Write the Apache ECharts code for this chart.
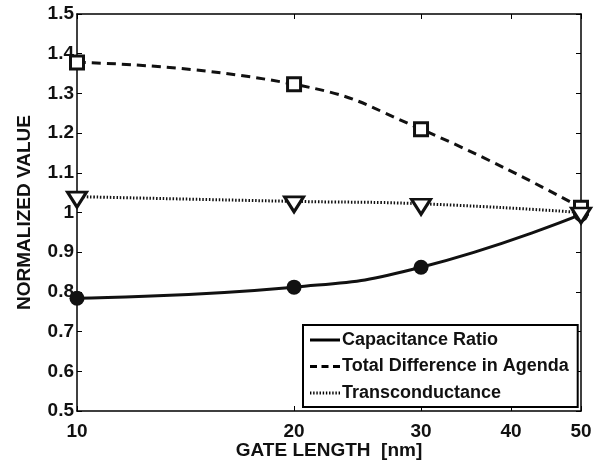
<!DOCTYPE html>
<html>
<head>
<meta charset="utf-8">
<script src="https://cdn.jsdelivr.net/npm/echarts@6/dist/echarts.min.js"></script>
<style>
  html, body { margin: 0; padding: 0; background: #fff; }
  #chart { width: 609px; height: 463px; }
</style>
</head>
<body>
<div id="chart"></div>
<script>
  // valores
  const gateLength = [10, 20, 30, 50];
  const capacitanceRatio = [0.784, 0.812, 0.862, 0.995];
  const totalDifference = [1.378, 1.323, 1.210, 1.012];
  const transconductance = [1.040, 1.028, 1.022, 1.000];
  const xTicks = [10, 20, 30, 40, 50];
  const seriesNames = ['Capacitance Ratio', 'Total Difference in Agenda', 'Transconductance'];

  const fonte = 'Liberation Sans, Arial, sans-serif';

  const pares = (ys) => gateLength.map((x, i) => [x, ys[i]]);

  // icones da legenda (linha cheia, tracejada, pontilhada)
  const iconeCheio = 'path://M0,0h30v3h-30z';
  const iconeTracejado = 'path://M0,0h7v3h-7z M11.5,0h7v3h-7z M23,0h7v3h-7z';
  let pontos = '';
  for (let x = 0; x < 29; x += 3.2) pontos += 'M' + x + ',0h1.4v3h-1.4z ';
  const iconePontilhado = 'path://' + pontos + 'M29,0h1v3h-1z';

  const eixoX = (pos, mostrar) => ({
    type: 'log',
    position: pos,
    min: 10,
    max: 50,
    axisLine: { show: true, lineStyle: { color: '#000', width: 1.5 } },
    axisTick: { show: true, inside: true, length: 5, customValues: xTicks, lineStyle: { color: '#000', width: 1 } },
    axisLabel: {
      show: mostrar,
      customValues: xTicks,
      color: '#111',
      fontFamily: fonte,
      fontWeight: 'bold',
      fontSize: 19,
      margin: 11
    },
    splitLine: { show: false },
    minorTick: { show: false },
    name: mostrar ? 'GATE LENGTH  [nm]' : '',
    nameLocation: 'middle',
    nameGap: 30,
    nameMoveOverlap: false,
    nameTextStyle: { color: '#111', fontFamily: fonte, fontWeight: 'bold', fontSize: 19 }
  });

  const eixoY = (pos, mostrar) => ({
    type: 'value',
    position: pos,
    min: 0.5,
    max: 1.5,
    interval: 0.1,
    axisLine: { show: true, lineStyle: { color: '#000', width: 1.5 } },
    axisTick: { show: true, inside: true, length: 5, lineStyle: { color: '#000', width: 1 } },
    axisLabel: {
      show: mostrar,
      color: '#111',
      fontFamily: fonte,
      fontWeight: 'bold',
      fontSize: 19,
      margin: 3
    },
    splitLine: { show: false },
    name: mostrar ? 'NORMALIZED VALUE' : '',
    nameLocation: 'middle',
    nameGap: 43,
    nameMoveOverlap: false,
    nameTextStyle: { color: '#111', fontFamily: fonte, fontWeight: 'bold', fontSize: 19 }
  });

  const chart = echarts.init(document.getElementById('chart'));

  const option = {
    animation: false,
    backgroundColor: '#fff',
    grid: { left: 77, right: 28, top: 14, bottom: 52, outerBoundsMode: 'none', containLabel: false },
    xAxis: [eixoX('bottom', true), eixoX('top', false)],
    yAxis: [eixoY('left', true), eixoY('right', false)],
    legend: {
      orient: 'vertical',
      left: 303,
      top: 325,
      padding: [6, 9, 5, 7],
      itemGap: 8.5,
      itemWidth: 30,
      itemHeight: 3,
      backgroundColor: '#fff',
      borderColor: '#000',
      borderWidth: 2,
      textStyle: { color: '#111', fontFamily: fonte, fontWeight: 'bold', fontSize: 18, padding: [0, 0, 0, -3] },
      data: [
        { name: seriesNames[0], icon: iconeCheio, itemStyle: { color: '#000', borderWidth: 0 } },
        { name: seriesNames[1], icon: iconeTracejado, itemStyle: { color: '#000', borderWidth: 0 } },
        { name: seriesNames[2], icon: iconePontilhado, itemStyle: { color: '#000', borderWidth: 0 } }
      ]
    },
    series: [
      {
        name: seriesNames[0],
        type: 'line',
        smooth: true,
        data: pares(capacitanceRatio),
        symbol: 'circle',
        symbolSize: 15,
        lineStyle: { color: '#111', width: 3, type: 'solid' },
        itemStyle: { color: '#111', borderWidth: 0 },
        z: 3
      },
      {
        name: seriesNames[1],
        type: 'line',
        smooth: true,
        data: pares(totalDifference),
        symbol: 'rect',
        symbolSize: 13,
        lineStyle: { color: '#111', width: 3, type: [9, 6] },
        itemStyle: { color: '#fff', borderColor: '#111', borderWidth: 3 },
        z: 3
      },
      {
        name: seriesNames[2],
        type: 'line',
        smooth: true,
        data: pares(transconductance),
        symbol: 'triangle',
        symbolRotate: 180,
        symbolSize: [19, 15],
        symbolOffset: [0, 3],
        lineStyle: { color: '#111', width: 3, type: [1.5, 1.8] },
        itemStyle: { color: '#fff', borderColor: '#111', borderWidth: 3 },
        z: 3
      }
    ]
  };

  chart.setOption(option);
</script>
</body>
</html>
